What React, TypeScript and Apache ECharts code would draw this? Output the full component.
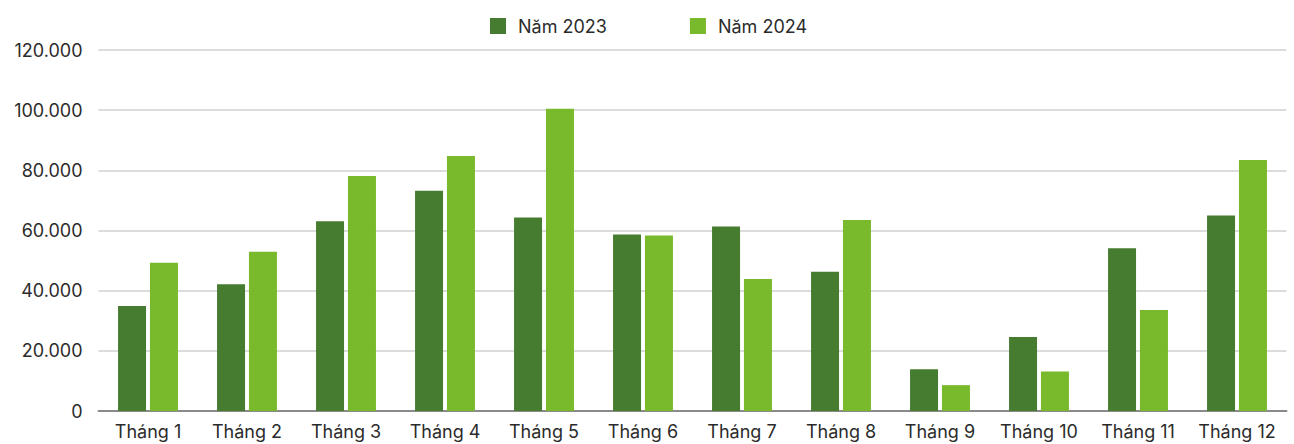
import React, { useEffect, useRef } from "react";
import * as echarts from "echarts";

const categories = ["Tháng 1", "Tháng 2", "Tháng 3", "Tháng 4", "Tháng 5", "Tháng 6", "Tháng 7", "Tháng 8", "Tháng 9", "Tháng 10", "Tháng 11", "Tháng 12"];
const series2023 = [34900, 42100, 63100, 73200, 64300, 58700, 61300, 46300, 13900, 24600, 54100, 65000];
const series2024 = [49300, 52900, 78100, 84800, 100500, 58300, 43900, 63500, 8600, 13100, 33600, 83400];
const seriesNames = ["Năm 2023", "Năm 2024"];
const yTicks = { min: 0, max: 120000, interval: 20000 };

const fmt = (v: number) => String(v).replace(/\B(?=(\d{3})+(?!\d))/g, ".");

export default function App() {
  const ref = useRef<HTMLDivElement>(null);
  useEffect(() => {
    if (!ref.current) return;
    const chart = echarts.init(ref.current, null, { renderer: "svg" });
    const font = "Inter, 'Noto Sans', sans-serif";
    chart.setOption({
      animation: false,
      backgroundColor: "#ffffff",
      textStyle: { fontFamily: font },
      legend: {
        data: seriesNames,
        left: 485,
        top: 12,
        itemWidth: 16,
        itemHeight: 16,
        itemGap: 83,
        icon: "rect",
        textStyle: { fontSize: 18, color: "#2b2b2b", fontFamily: font, padding: [0, 0, 0, 7] },
      },
      grid: { left: 98.5, right: 7.5, top: 50, bottom: 33, containLabel: false },
      xAxis: {
        type: "category",
        data: categories,
        axisLine: { lineStyle: { color: "#8a8a8a", width: 2 } },
        axisTick: { show: false },
        axisLabel: { fontSize: 18, color: "#2b2b2b", margin: 11, fontFamily: font, interval: 0 },
      },
      yAxis: {
        type: "value",
        min: yTicks.min,
        max: yTicks.max,
        interval: yTicks.interval,
        axisLine: { show: false },
        axisTick: { show: false },
        splitLine: { lineStyle: { color: "#dcdcdc", width: 2 } },
        axisLabel: { fontSize: 18, color: "#2b2b2b", margin: 16, fontFamily: font, formatter: (v: number) => fmt(v) },
      },
      series: [
        { name: seriesNames[0], type: "bar", data: series2023, barWidth: 28, barGap: "14%", itemStyle: { color: "#467c30" } },
        { name: seriesNames[1], type: "bar", data: series2024, barWidth: 28, itemStyle: { color: "#79b92c" } },
      ],
    });
    return () => chart.dispose();
  }, []);
  return <div ref={ref} style={{ position: "fixed", left: 0, top: 0, width: 1294, height: 444 }} />;
}
